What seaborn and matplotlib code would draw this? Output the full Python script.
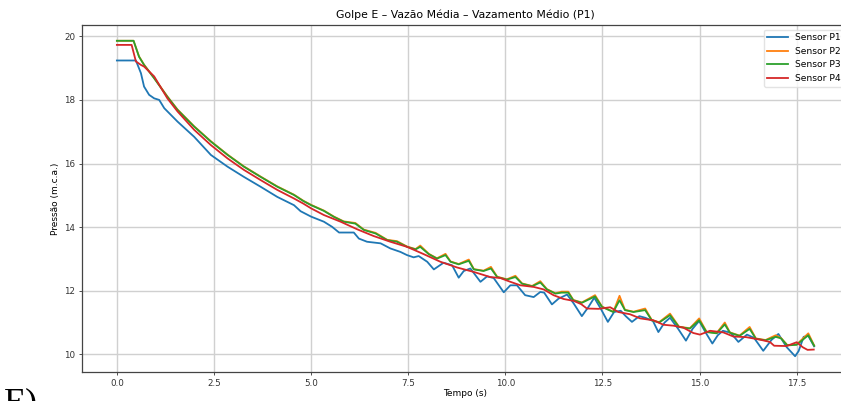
import matplotlib
matplotlib.use("Agg")
import matplotlib.pyplot as plt
from matplotlib.ticker import MultipleLocator
import seaborn as sns
import pandas as pd

# ---- data (time in s, pressure in m.c.a.) ----
t_p1 = [0.0, 0.49, 0.62, 0.70, 0.83, 0.96, 1.09, 1.22, 1.56, 1.99, 2.42, 2.85, 3.27, 3.70,
        4.13, 4.56, 4.73, 5.00, 5.33, 5.54, 5.72, 6.10, 6.23, 6.44, 6.79, 7.04, 7.30, 7.47,
        7.64, 7.77, 7.99, 8.16, 8.41, 8.63, 8.80, 8.93, 9.10, 9.36, 9.53, 9.70, 9.96, 10.13,
        10.30, 10.51, 10.73, 10.90, 11.00, 11.20, 11.37, 11.59, 11.76, 11.97, 12.14, 12.29,
        12.45, 12.64, 12.80, 12.97, 13.10, 13.26, 13.45, 13.60, 13.80, 13.94, 14.10, 14.24,
        14.45, 14.65, 14.82, 14.99, 15.15, 15.33, 15.47, 15.60, 15.80, 16.00, 16.22, 16.40,
        16.50, 16.64, 16.85, 17.03, 17.24, 17.46, 17.55, 17.68, 17.80, 17.95]
p1 = [19.24, 19.24, 18.84, 18.42, 18.16, 18.05, 18.00, 17.74, 17.32, 16.84, 16.27, 15.90, 15.58, 15.27,
      14.95, 14.69, 14.50, 14.33, 14.17, 14.01, 13.83, 13.83, 13.64, 13.54, 13.49, 13.33, 13.22, 13.12,
      13.05, 13.09, 12.91, 12.67, 12.88, 12.80, 12.41, 12.62, 12.70, 12.28, 12.45, 12.40, 11.95, 12.17,
      12.17, 11.86, 11.80, 11.96, 11.94, 11.57, 11.75, 11.88, 11.60, 11.20, 11.49, 11.78,
      11.45, 11.02, 11.33, 11.37, 11.20, 11.02, 11.20, 11.15, 11.05, 10.70, 11.00, 11.15,
      10.80, 10.43, 10.80, 11.05, 10.70, 10.34, 10.60, 10.74, 10.68, 10.39, 10.62, 10.52,
      10.35, 10.11, 10.45, 10.64, 10.23, 9.94, 10.10, 10.55, 10.58, 10.25]

t_p3 = [0.0, 0.43, 0.57, 0.70, 0.96, 1.30, 1.56, 1.99, 2.42, 2.85, 3.27, 3.70, 4.13, 4.56,
        4.80, 5.00, 5.33, 5.59, 5.84, 6.14, 6.36, 6.66, 6.96, 7.21, 7.47, 7.69, 7.81, 8.03,
        8.24, 8.46, 8.59, 8.80, 9.06, 9.19, 9.44, 9.63, 9.79, 10.04, 10.26, 10.43, 10.69,
        10.90, 11.07, 11.29, 11.45, 11.62, 11.75, 11.97, 12.31, 12.49, 12.78, 12.94, 13.08,
        13.30, 13.60, 13.77, 13.96, 14.24, 14.47, 14.75, 14.99, 15.18, 15.44, 15.65, 15.78,
        16.03, 16.29, 16.45, 16.70, 16.96, 17.10, 17.26, 17.50, 17.80, 17.95]
p3 = [19.86, 19.86, 19.36, 19.10, 18.68, 18.10, 17.69, 17.16, 16.69, 16.27, 15.90, 15.58, 15.27, 15.01,
      14.82, 14.69, 14.51, 14.32, 14.17, 14.11, 13.91, 13.80, 13.59, 13.54, 13.38, 13.30, 13.38, 13.15,
      13.01, 13.12, 12.91, 12.83, 12.94, 12.67, 12.62, 12.70, 12.43, 12.35, 12.43, 12.22, 12.14,
      12.26, 12.04, 11.91, 11.94, 11.94, 11.70, 11.62, 11.82, 11.49, 11.33, 11.70, 11.39,
      11.33, 11.39, 11.07, 11.00, 11.23, 10.86, 10.81, 11.07, 10.70, 10.66, 10.94, 10.68,
      10.58, 10.80, 10.49, 10.44, 10.55, 10.50, 10.28, 10.30, 10.60, 10.27]

t_p2 = t_p3
p2 = [19.86, 19.86, 19.37, 19.11, 18.69, 18.11, 17.70, 17.17, 16.70, 16.28, 15.91, 15.59, 15.28, 15.02,
      14.83, 14.70, 14.52, 14.33, 14.18, 14.13, 13.92, 13.82, 13.60, 13.56, 13.39, 13.31, 13.42, 13.16,
      13.02, 13.16, 12.92, 12.84, 12.98, 12.68, 12.63, 12.75, 12.44, 12.36, 12.47, 12.23, 12.15,
      12.30, 12.05, 11.92, 11.97, 11.97, 11.71, 11.63, 11.86, 11.50, 11.34, 11.84, 11.40,
      11.34, 11.44, 11.08, 11.01, 11.28, 10.87, 10.82, 11.13, 10.71, 10.67, 11.00, 10.69,
      10.59, 10.86, 10.50, 10.45, 10.60, 10.51, 10.29, 10.31, 10.66, 10.28]

t_p4 = [0.0, 0.38, 0.49, 0.62, 0.70, 0.96, 1.30, 1.56, 1.99, 2.42, 2.85, 3.27, 3.70, 4.13,
        4.56, 4.80, 5.00, 5.33, 5.76, 6.19, 6.61, 7.04, 7.47, 7.90, 8.33, 8.76, 9.19, 9.61,
        9.87, 10.13, 10.39, 10.73, 10.99, 11.24, 11.50, 11.76, 11.95, 12.10, 12.40, 12.70,
        12.91, 13.21, 13.47, 13.81, 14.07, 14.33, 14.58, 14.84, 15.01, 15.27, 15.61, 15.87,
        16.20, 16.56, 16.81, 16.92, 17.24, 17.50, 17.66, 17.78, 17.94]
p4 = [19.73, 19.73, 19.21, 19.10, 19.05, 18.74, 18.05, 17.64, 17.06, 16.58, 16.16, 15.80, 15.48, 15.17,
      14.90, 14.74, 14.59, 14.38, 14.17, 13.93, 13.72, 13.54, 13.38, 13.15, 12.91, 12.73, 12.59, 12.43,
      12.40, 12.28, 12.17, 12.12, 12.04, 11.86, 11.74, 11.68, 11.58, 11.44, 11.43, 11.48,
      11.33, 11.26, 11.13, 11.07, 10.93, 10.90, 10.84, 10.67, 10.62, 10.74, 10.69, 10.56,
      10.54, 10.46, 10.39, 10.27, 10.26, 10.38, 10.22, 10.14, 10.15]

labels = ["Sensor P1", "Sensor P2", "Sensor P3", "Sensor P4"]
colors = ["#1f77b4", "#ff7f0e", "#2ca02c", "#d62728"]

title = "Golpe E – Vazão Média – Vazamento Médio (P1)"
xlabel = "Tempo (s)"
ylabel = "Pressão (m.c.a.)"
panel = "E)"

# ---- figure ----
plt.rcParams["font.family"] = ["DejaVu Sans"]
fig = plt.figure(figsize=(8.41, 4.01), dpi=100)
ax = fig.add_axes([82 / 841, 29 / 401, 767 / 841, 347 / 401])

series = [(t_p1, p1), (t_p2, p2), (t_p3, p3), (t_p4, p4)]
for (tt, pp), lab, col in zip(series, labels, colors):
    df = pd.DataFrame({"t": tt, "p": pp})
    sns.lineplot(data=df, x="t", y="p", ax=ax, color=col, label=lab,
                 linewidth=1.3, estimator=None, sort=False)

ax.xaxis.set_major_locator(MultipleLocator(2.5))
ax.yaxis.set_major_locator(MultipleLocator(2))
ax.grid(True, color="#d0d0d0", linewidth=1.0)
ax.set_axisbelow(True)
ax.tick_params(labelsize=6.3, length=2.5, width=0.6, pad=2.3, colors="#333333")
for s in ax.spines.values():
    s.set_color("#444444")
    s.set_linewidth(0.9)

ax.set_title(title, fontsize=7.8, pad=5)
ax.set_xlabel(xlabel, fontsize=6.5, labelpad=1)
ax.set_ylabel(ylabel, fontsize=6.5, labelpad=3)

leg = ax.legend(loc="upper right", fontsize=6.6, frameon=True, handlelength=2.2)
leg.get_frame().set_edgecolor("#dddddd")

fig.text(0.005, -0.028, panel, fontsize=26, family=["Liberation Serif"], va="baseline")

fig.savefig("out.png", dpi=100)
